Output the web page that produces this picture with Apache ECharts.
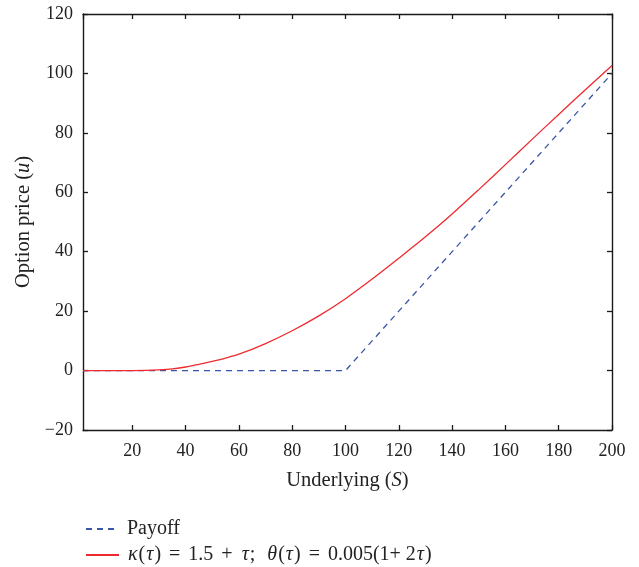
<!DOCTYPE html>
<html>
<head>
<meta charset="utf-8">
<script src="https://cdn.jsdelivr.net/npm/echarts@6/dist/echarts.min.js"></script>
<style>
html,body{margin:0;padding:0;background:#fff;}
#chart{width:639px;height:567px;}
</style>
</head>
<body>
<div id="chart"></div>
<script>
// ---- data ----
var seriesNames = ['Payoff', 'kappa'];
var payoffS = [1.5, 100, 200];
var payoffV = [0, 0, 100];
var priceS = [1.5, 10, 20, 25, 30, 35, 40, 45, 50, 55, 60, 70, 80, 90, 100, 110, 120, 130, 140, 150, 160, 170, 180, 190, 200];
var priceV = [0, 0, 0, 0.05, 0.25, 0.6, 1.2, 2.1, 3.1, 4.2, 5.5, 9.1, 13.4, 18.4, 24.2, 30.8, 37.8, 45.0, 52.7, 60.9, 69.3, 77.8, 86.2, 94.5, 102.7];
var xTicks = [20, 40, 60, 80, 100, 120, 140, 160, 180, 200];
var yTicks = [-20, 0, 20, 40, 60, 80, 100, 120];

var FONT = '"Liberation Serif", "DejaVu Serif", serif';
var AX = '#1a1a1a';
var TXT = '#222';

function pairs(xs, ys) { return xs.map(function (x, i) { return [x, ys[i]]; }); }

var chart = echarts.init(document.getElementById('chart'), null, {renderer: 'canvas'});

var axisLineStyle = {onZero: false, lineStyle: {color: AX, width: 1.4}};
var tickStyle = {inside: true, length: 5, lineStyle: {color: AX, width: 1.3}};
function richI(sz) {
  return {
    i: {fontFamily: FONT, fontSize: sz, fontStyle: 'italic', color: TXT, padding: [0, 1, 0, 1]},
    s: {fontFamily: FONT, fontSize: sz, color: TXT, padding: [0, 3, 0, 3]}
  };
}

function legendFor(name, top) {
  return {
    orient: 'vertical',
    left: 80,
    top: top,
    itemWidth: 33,
    itemHeight: 14,
    data: [name],
    itemStyle: {opacity: 0},
    formatter: function (n) {
      if (n === 'Payoff') return 'Payoff';
      return '{i|κ}({i|τ}){s| = }1.5{s| + }{i|τ};{s| }{i|θ}({i|τ}){s| = }0.005(1+ 2{i|τ})';
    },
    textStyle: {fontFamily: FONT, fontSize: 20, color: TXT, padding: [0, 0, 0, 3], rich: richI(20)}
  };
}

var option = {
  backgroundColor: '#fff',
  animation: false,
  grid: {left: 83, right: 27, top: 14, bottom: 137},
  legend: [legendFor(seriesNames[0], 514), legendFor(seriesNames[1], 540)],
  xAxis: [{
    type: 'value', position: 'bottom', min: 1.5, max: 200, splitNumber: 10,
    name: 'Underlying ({i|S})', nameLocation: 'middle', nameGap: 40,
    nameTextStyle: {fontFamily: FONT, fontSize: 20.5, color: TXT,
      rich: {i: {fontFamily: FONT, fontSize: 20.5, fontStyle: 'italic', color: TXT}}},
    axisLine: axisLineStyle, axisTick: tickStyle, splitLine: {show: false},
    axisLabel: {fontFamily: FONT, fontSize: 18, color: TXT, margin: 12, showMinLabel: false,
      formatter: function (v) { return xTicks.indexOf(v) >= 0 ? String(v) : ''; }}
  }, {
    type: 'value', position: 'top', min: 1.5, max: 200, splitNumber: 10,
    axisLine: axisLineStyle, axisTick: tickStyle, splitLine: {show: false},
    axisLabel: {show: false}
  }],
  yAxis: [{
    type: 'value', position: 'left', min: -20, max: 120, interval: 20,
    name: 'Option price ({i|u})', nameLocation: 'middle', nameGap: 49,
    nameTextStyle: {fontFamily: FONT, fontSize: 20.5, color: TXT,
      rich: {i: {fontFamily: FONT, fontSize: 20.5, fontStyle: 'italic', color: TXT}}},
    axisLine: axisLineStyle, axisTick: tickStyle, splitLine: {show: false},
    axisLabel: {fontFamily: FONT, fontSize: 18, color: TXT, margin: 10,
      formatter: function (v) { return yTicks.indexOf(v) >= 0 ? (v < 0 ? '\u2212' + Math.abs(v) : String(v)) : ''; }}
  }, {
    type: 'value', position: 'right', min: -20, max: 120, interval: 20,
    axisLine: axisLineStyle, axisTick: tickStyle, splitLine: {show: false},
    axisLabel: {show: false}
  }],
  series: [{
    name: seriesNames[0], type: 'line', xAxisIndex: 0, yAxisIndex: 0,
    data: pairs(payoffS, payoffV), symbol: 'none',
    lineStyle: {color: '#3a56a8', width: 1.3, type: [6, 5]},
    itemStyle: {color: '#3a56a8'}
  }, {
    name: seriesNames[1], type: 'line', xAxisIndex: 0, yAxisIndex: 0,
    data: pairs(priceS, priceV), symbol: 'none', smooth: 0.3,
    lineStyle: {color: '#ee2a2f', width: 1.3},
    itemStyle: {color: '#ee2a2f'}
  }]
};
chart.setOption(option);
</script>
</body>
</html>
